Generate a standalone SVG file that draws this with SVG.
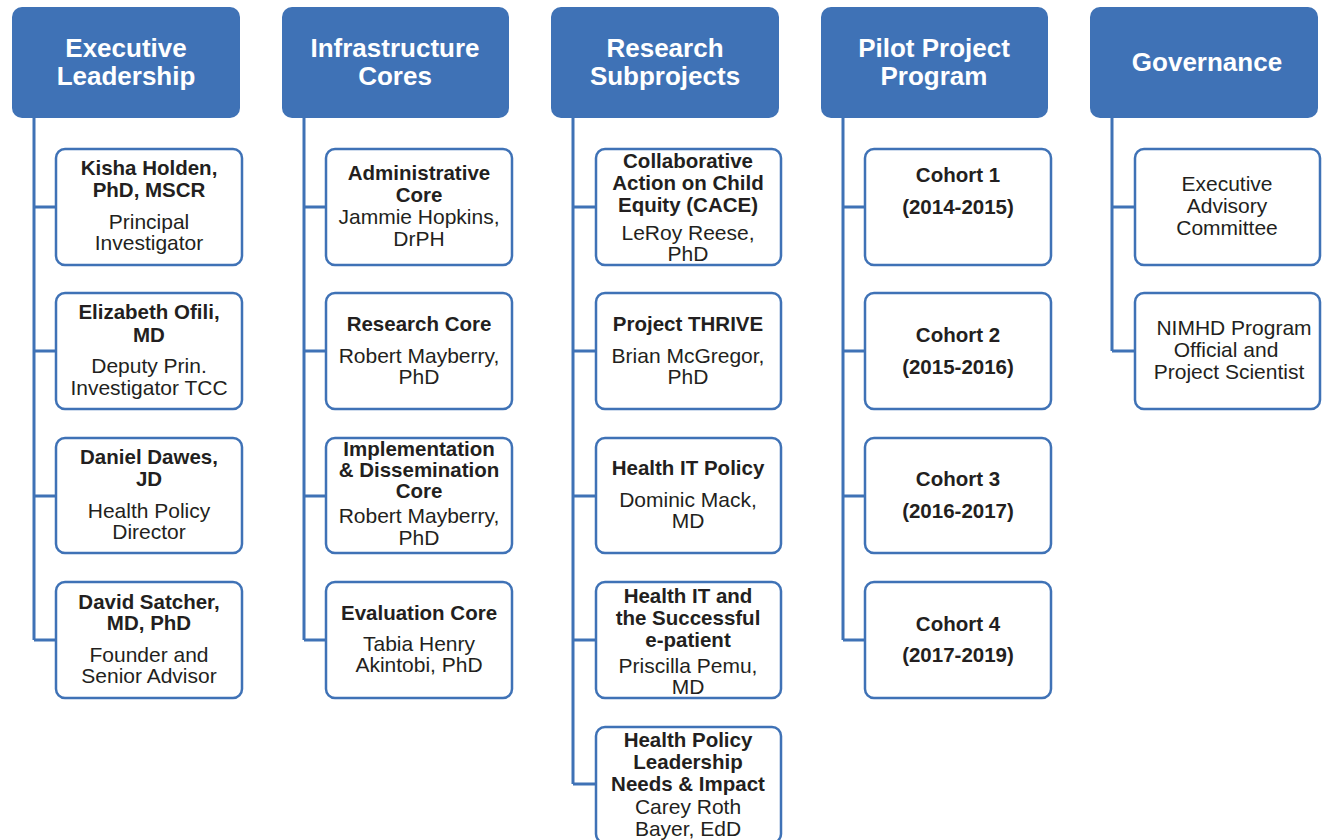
<svg xmlns="http://www.w3.org/2000/svg" width="1322" height="840" viewBox="0 0 1322 840">
<style>
.hd{fill:#3f72b6;}
.bx{fill:#ffffff;stroke:#3f72b6;stroke-width:2.5;}
.ln{stroke:#3f72b6;stroke-width:3;fill:none;}
.ht{font-family:"Liberation Sans",Arial,sans-serif;font-weight:bold;font-size:26px;fill:#ffffff;text-anchor:middle;}
.b{font-family:"Liberation Sans",Arial,sans-serif;font-weight:bold;font-size:20.5px;fill:#231f20;text-anchor:middle;}
.n{font-family:"Liberation Sans",Arial,sans-serif;font-size:21px;fill:#231f20;text-anchor:middle;}
</style>
<rect width="1322" height="840" fill="#ffffff"/>
<g id="connectors">
<path class="ln" d="M34 118V640M34 207H56M34 351H56M34 496H56M34 640H56"/>
<path class="ln" d="M304 118V640M304 207H326M304 351H326M304 496H326M304 640H326"/>
<path class="ln" d="M573 118V784M573 207H596M573 351H596M573 496H596M573 640H596M573 784H596"/>
<path class="ln" d="M843 118V640M843 207H865M843 351H865M843 496H865M843 640H865"/>
<path class="ln" d="M1112 118V351M1112 207H1135M1112 351H1135"/>
</g>
<g id="h1"><rect class="hd" x="12" y="7" width="228" height="111" rx="10"/><text class="ht" x="126" y="57">Executive</text><text class="ht" x="126" y="85">Leadership</text></g>
<g id="h2"><rect class="hd" x="282" y="7" width="227" height="111" rx="10"/><text class="ht" x="395" y="57">Infrastructure</text><text class="ht" x="395" y="85">Cores</text></g>
<g id="h3"><rect class="hd" x="551" y="7" width="228" height="111" rx="10"/><text class="ht" x="665" y="57">Research</text><text class="ht" x="665" y="85">Subprojects</text></g>
<g id="h4"><rect class="hd" x="821" y="7" width="227" height="111" rx="10"/><text class="ht" x="934" y="57">Pilot Project</text><text class="ht" x="934" y="85">Program</text></g>
<g id="h5"><rect class="hd" x="1090" y="7" width="228" height="111" rx="10"/><text class="ht" x="1207" y="71">Governance</text></g>

<g id="c1r1"><rect class="bx" x="56" y="149" width="186" height="116" rx="9"/><text class="b" x="149" y="175">Kisha Holden,</text><text class="b" x="149" y="197">PhD, MSCR</text><text class="n" x="149" y="229">Principal</text><text class="n" x="149" y="250">Investigator</text></g>
<g id="c1r2"><rect class="bx" x="56" y="293" width="186" height="116" rx="9"/><text class="b" x="149" y="319">Elizabeth Ofili,</text><text class="b" x="149" y="342">MD</text><text class="n" x="149" y="373">Deputy Prin.</text><text class="n" x="149" y="395">Investigator TCC</text></g>
<g id="c1r3"><rect class="bx" x="56" y="438" width="186" height="115" rx="9"/><text class="b" x="149" y="464">Daniel Dawes,</text><text class="b" x="149" y="486">JD</text><text class="n" x="149" y="518">Health Policy</text><text class="n" x="149" y="539">Director</text></g>
<g id="c1r4"><rect class="bx" x="56" y="582" width="186" height="116" rx="9"/><text class="b" x="149" y="609">David Satcher,</text><text class="b" x="149" y="630">MD, PhD</text><text class="n" x="149" y="662">Founder and</text><text class="n" x="149" y="683">Senior Advisor</text></g>

<g id="c2r1"><rect class="bx" x="326" y="149" width="186" height="116" rx="9"/><text class="b" x="419" y="180">Administrative</text><text class="b" x="419" y="202">Core</text><text class="n" x="419" y="224">Jammie Hopkins,</text><text class="n" x="419" y="246">DrPH</text></g>
<g id="c2r2"><rect class="bx" x="326" y="293" width="186" height="116" rx="9"/><text class="b" x="419" y="331">Research Core</text><text class="n" x="419" y="363">Robert Mayberry,</text><text class="n" x="419" y="384">PhD</text></g>
<g id="c2r3"><rect class="bx" x="326" y="438" width="186" height="115" rx="9"/><text class="b" x="419" y="456">Implementation</text><text class="b" x="419" y="477">&amp; Dissemination</text><text class="b" x="419" y="498">Core</text><text class="n" x="419" y="523">Robert Mayberry,</text><text class="n" x="419" y="545">PhD</text></g>
<g id="c2r4"><rect class="bx" x="326" y="582" width="186" height="116" rx="9"/><text class="b" x="419" y="620">Evaluation Core</text><text class="n" x="419" y="651">Tabia Henry</text><text class="n" x="419" y="672">Akintobi, PhD</text></g>

<g id="c3r1"><rect class="bx" x="596" y="149" width="185" height="116" rx="9"/><text class="b" x="688" y="168">Collaborative</text><text class="b" x="688" y="190">Action on Child</text><text class="b" x="688" y="212">Equity (CACE)</text><text class="n" x="688" y="240">LeRoy Reese,</text><text class="n" x="688" y="261">PhD</text></g>
<g id="c3r2"><rect class="bx" x="596" y="293" width="185" height="116" rx="9"/><text class="b" x="688" y="331">Project THRIVE</text><text class="n" x="688" y="363">Brian McGregor,</text><text class="n" x="688" y="384">PhD</text></g>
<g id="c3r3"><rect class="bx" x="596" y="438" width="185" height="115" rx="9"/><text class="b" x="688" y="475">Health IT Policy</text><text class="n" x="688" y="507">Dominic Mack,</text><text class="n" x="688" y="528">MD</text></g>
<g id="c3r4"><rect class="bx" x="596" y="582" width="185" height="116" rx="9"/><text class="b" x="688" y="603">Health IT and</text><text class="b" x="688" y="625">the Successful</text><text class="b" x="688" y="647">e-patient</text><text class="n" x="688" y="673">Priscilla Pemu,</text><text class="n" x="688" y="694">MD</text></g>
<g id="c3r5"><rect class="bx" x="596" y="727" width="185" height="116" rx="9"/><text class="b" x="688" y="747">Health Policy</text><text class="b" x="688" y="769">Leadership</text><text class="b" x="688" y="791">Needs &amp; Impact</text><text class="n" x="688" y="814">Carey Roth</text><text class="n" x="688" y="836">Bayer, EdD</text></g>

<g id="c4r1"><rect class="bx" x="865" y="149" width="186" height="116" rx="9"/><text class="b" x="958" y="182">Cohort 1</text><text class="b" x="958" y="214">(2014-2015)</text></g>
<g id="c4r2"><rect class="bx" x="865" y="293" width="186" height="116" rx="9"/><text class="b" x="958" y="342">Cohort 2</text><text class="b" x="958" y="374">(2015-2016)</text></g>
<g id="c4r3"><rect class="bx" x="865" y="438" width="186" height="115" rx="9"/><text class="b" x="958" y="486">Cohort 3</text><text class="b" x="958" y="518">(2016-2017)</text></g>
<g id="c4r4"><rect class="bx" x="865" y="582" width="186" height="116" rx="9"/><text class="b" x="958" y="631">Cohort 4</text><text class="b" x="958" y="662">(2017-2019)</text></g>

<g id="c5r1"><rect class="bx" x="1135" y="149" width="185" height="116" rx="9"/><text class="n" x="1227" y="191">Executive</text><text class="n" x="1227" y="213">Advisory</text><text class="n" x="1227" y="235">Committee</text></g>
<g id="c5r2"><rect class="bx" x="1135" y="293" width="185" height="116" rx="9"/><text class="n" x="1234" y="335">NIMHD Program</text><text class="n" x="1226" y="357">Official and</text><text class="n" x="1229" y="379">Project Scientist</text></g>
</svg>
